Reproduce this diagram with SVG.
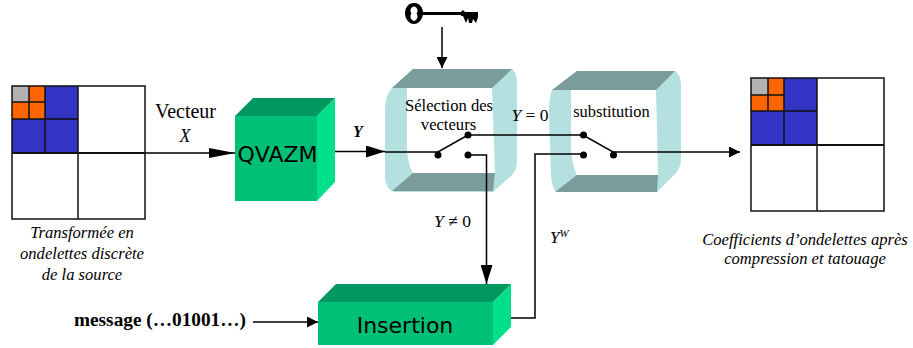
<svg xmlns="http://www.w3.org/2000/svg" width="913" height="348" viewBox="0 0 913 348">
<style>
.s{font-family:"Liberation Serif","Times New Roman",serif;fill:#000}
.i{font-style:italic}
.c{font-size:16.6px;font-style:italic;text-anchor:middle}
.sans{font-family:"DejaVu Sans",sans-serif;fill:#000}
.gl{fill:none;stroke:#111;stroke-width:1.5}
.gm{fill:none;stroke:#111;stroke-width:2}
.fr{fill:#b4e0e0}
.fi{fill:#fff}
.ft{fill:#7a9c9a}
.cf{fill:#00c078}
.cr{fill:#00e088}
.ct{fill:#009860}
.w{fill:none;stroke:#000;stroke-width:1.5}
.d{fill:#000}
</style>
<defs>
<marker id="a" markerUnits="userSpaceOnUse" markerWidth="26" markerHeight="10" refX="26" refY="5" orient="auto"><path d="M0,0L26,5L0,10Z"/></marker>
<marker id="b" markerUnits="userSpaceOnUse" markerWidth="19" markerHeight="12" refX="19" refY="6" orient="auto"><path d="M0,0L19,6L0,12Z"/></marker>
<marker id="k" markerUnits="userSpaceOnUse" markerWidth="11" markerHeight="11" refX="11" refY="5.5" orient="auto"><path d="M0,0L11,5.5L0,11Z"/></marker>
</defs>

<g id="grid-source">
<rect x="12" y="86" width="133" height="133" fill="#fff"/>
<rect x="12" y="86" width="66" height="67" fill="#3333c4"/>
<rect x="12" y="86" width="33" height="33" fill="#ff6600"/>
<rect x="12" y="86" width="17" height="16" fill="#b2b2b2"/>
<path class="gl" d="M12,86H145V219H12ZM78,86V219M45,86V153M12,119H78M29,86V119M12,102H45"/>
<path class="gm" d="M12,153H145"/>
</g>
<g id="grid-result">
<rect x="751" y="78" width="133" height="133" fill="#fff"/>
<rect x="751" y="78" width="66" height="67" fill="#3333c4"/>
<rect x="751" y="78" width="33" height="33" fill="#ff6600"/>
<rect x="751" y="78" width="17" height="17" fill="#b2b2b2"/>
<path class="gl" d="M751,78H884V211H751ZM817,78V211M784,78V145M751,111H817M768,78V111M751,95H784"/>
<path class="gm" d="M751,145H884"/>
</g>

<g id="qvazm">
<path class="cf" d="M235,116H317V201H235Z"/>
<path class="cr" d="M317,116L335,98V182L317,201Z"/>
<path class="ct" d="M235,116L253,98H335L317,116Z"/>
<text class="sans" x="277.500" y="162" font-size="22" text-anchor="middle">QVAZM</text>
</g>
<g id="insertion">
<path class="cf" d="M318,302H493V345H318Z"/>
<path class="cr" d="M493,302L511,284V327L493,345Z"/>
<path class="ct" d="M318,302L336,284H511L493,302Z"/>
<text class="sans" x="405" y="333" font-size="22" text-anchor="middle">Insertion</text>
</g>
<g id="selection">
<path class="fr" d="M413,69H512Q517,72 517,85V160Q517,170 512,175L493,192H395Q385,190 385,175V110Q385,95 392,88Z"/>
<path class="fi" d="M407,88H492L495,173H413Q408,165 407,150Z"/>
<path class="ft" d="M392,88L413,69H512L492,88Z"/>
<path class="ft" d="M392,191L413,173H495L493,191Z"/>
<text class="s" x="449" y="111" font-size="16.6" text-anchor="middle">Sélection des</text>
<text class="s" x="448.500" y="130" font-size="16.6" text-anchor="middle">vecteurs</text>
</g>
<g id="substitution">
<path class="fr" d="M577,71H675Q681,74 681,88V158Q681,168 675,174L657,192H557Q552,190 551,175L549,115Q549,97 552,90Z"/>
<path class="fi" d="M571,90H656L658,175H577Q572,165 571,150Z"/>
<path class="ft" d="M552,90L577,71H675L656,90Z"/>
<path class="ft" d="M555,192L577,175H658L657,192Z"/>
<text class="s" x="611.500" y="117" font-size="16.4" text-anchor="middle">substitution</text>
</g>
<g id="key">
<path fill-rule="evenodd" d="M414,3C420,3 423,8 423,13C423,19 419,24 414,24C409,24 405,19 405,13C405,8 408,3 414,3ZM414,6.500C410.500,7 409.500,11 411.500,13.500C409.500,16 410.500,20 414,21C417.500,20 418.500,16 416.500,13.500C418.500,11 417.500,7 414,6.500Z"/>
<path d="M422,12H461L463,10L465,12H478V17L476,23L473,19L472,23L469,23L468,18L466,23L463,16H461V15H422Z"/>
</g>

<g id="connectors">
<path class="w" d="M145,153H235" marker-end="url(#a)"/>
<path class="w" d="M335,151.500H385" marker-end="url(#b)"/>
<path class="w" d="M385,152H438L468,135H583L613,152H740" marker-end="url(#k)"/>
<path class="w" d="M468,155H486.500V284" marker-end="url(#b)"/>
<path class="w" d="M511,318H535V154H583"/>
<path class="w" d="M253,322H318" marker-end="url(#k)"/>
<path class="w" d="M442,27V68" marker-end="url(#k)"/>
<circle class="d" cx="438" cy="155" r="3.500"/>
<circle class="d" cx="468" cy="135" r="3.500"/>
<circle class="d" cx="468" cy="155" r="3.500"/>
<circle class="d" cx="583.500" cy="135" r="3.500"/>
<circle class="d" cx="583.500" cy="155" r="3.500"/>
<circle class="d" cx="613.500" cy="155" r="3.500"/>
</g>

<g id="labels">
<text class="s" x="185.500" y="118" font-size="20" text-anchor="middle">Vecteur</text>
<text class="s i" x="185" y="142" font-size="18" text-anchor="middle">X</text>
<text class="s i" x="358" y="137" font-size="16" text-anchor="middle" font-weight="bold">Y</text>
<text class="s" x="530" y="121" font-size="17.5" text-anchor="middle"><tspan font-style="italic">Y</tspan> = 0</text>
<text class="s" x="452.500" y="227" font-size="17.500" text-anchor="middle"><tspan font-style="italic">Y</tspan> ≠ 0</text>
<text class="s i" x="550" y="243" font-size="17">Y<tspan font-size="11" dy="-6">W</tspan></text>
<text class="s c" x="82" y="238">Transformée en</text>
<text class="s c" x="82" y="259">ondelettes discrète</text>
<text class="s c" x="82" y="280">de la source</text>
<text class="s c" x="805" y="245">Coefficients d’ondelettes après</text>
<text class="s c" x="805" y="264">compression et tatouage</text>
<text class="s" x="74" y="326" font-size="19.3" font-weight="bold">message (…01001…)</text>
</g>
</svg>
